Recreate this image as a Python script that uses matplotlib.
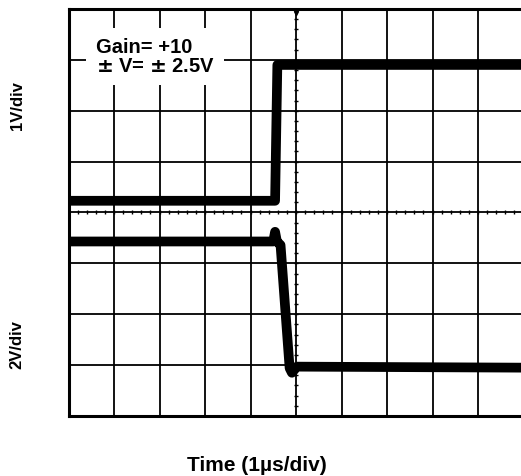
import numpy as np
import matplotlib
matplotlib.use('Agg')
import matplotlib.pyplot as plt

plt.rcParams['font.family'] = ['Liberation Sans', 'DejaVu Sans']
plt.rcParams['font.weight'] = 'bold'

# Scope screen: 10 horizontal divisions (1 us/div), 8 vertical divisions
# Output trace (1V/div), levels in screen divisions
out_t = [-5.0, -0.46, -0.41, 5.0]
out_v = [0.23, 0.23, 2.90, 2.90]

# Input trace (2V/div), with the small kick before the edge and undershoot
inp_t = [-5.0, -0.50, -0.46, -0.42, -0.34, -0.14, -0.09, 0.02, 5.0]
inp_v = [-0.57, -0.57, -0.38, -0.57, -0.64, -3.06, -3.15, -3.03, -3.05]

x_div = np.arange(-5, 6, 1)
y_div = np.arange(-4, 5, 1)

fig = plt.figure(figsize=(5.21, 4.77), dpi=100)
ax = fig.add_axes([0.1315, 0.1258, 0.8733, 0.8533])
ax.set_xlim(-5, 5)
ax.set_ylim(-4, 4)

# graticule
for xv in x_div[1:-1]:
    ax.axvline(xv, color='black', lw=1.3, zorder=1)
for yv in y_div[1:-1]:
    ax.axhline(yv, color='black', lw=1.3, zorder=1)

# minor ticks along the centre lines
minor_x = np.arange(-5, 5.01, 0.2)
minor_y = np.arange(-4, 4.01, 0.2)
ax.plot(minor_x, np.zeros_like(minor_x), ls='none', marker='|', ms=3, mew=1, color='black', zorder=1)
ax.plot(np.zeros_like(minor_y), minor_y, ls='none', marker='_', ms=3, mew=1, color='black', zorder=1)
ax.plot([0], [3.93], ls='none', marker='v', ms=3, color='black', zorder=1)

# traces
ax.plot(out_t, out_v, color='black', lw=7, solid_joinstyle='round', zorder=3)
ax.plot(inp_t, inp_v, color='black', lw=7, solid_joinstyle='round', zorder=3)

ax.text(-4.4, 3.07, 'Gain= +10\n$\\pm$ V= $\\pm$ 2.5V', fontsize=14.5, fontweight='bold',
        ha='left', va='center', linespacing=1.0, zorder=4,
        bbox=dict(facecolor='white', edgecolor='none', pad=7))

ax.set_xticks([])
ax.set_yticks([])
for s in ax.spines.values():
    s.set_linewidth(2.2)

fig.text(0.033, 0.778, '1V/div', rotation=90, ha='center', va='center', fontsize=12, fontweight='bold')
fig.text(0.033, 0.278, '2V/div', rotation=90, ha='center', va='center', fontsize=12, fontweight='bold')
fig.text(0.493, 0.025, 'Time (1\u00b5s/div)', ha='center', va='center', fontsize=15, fontweight='bold')

fig.savefig('out.png', dpi=100)
